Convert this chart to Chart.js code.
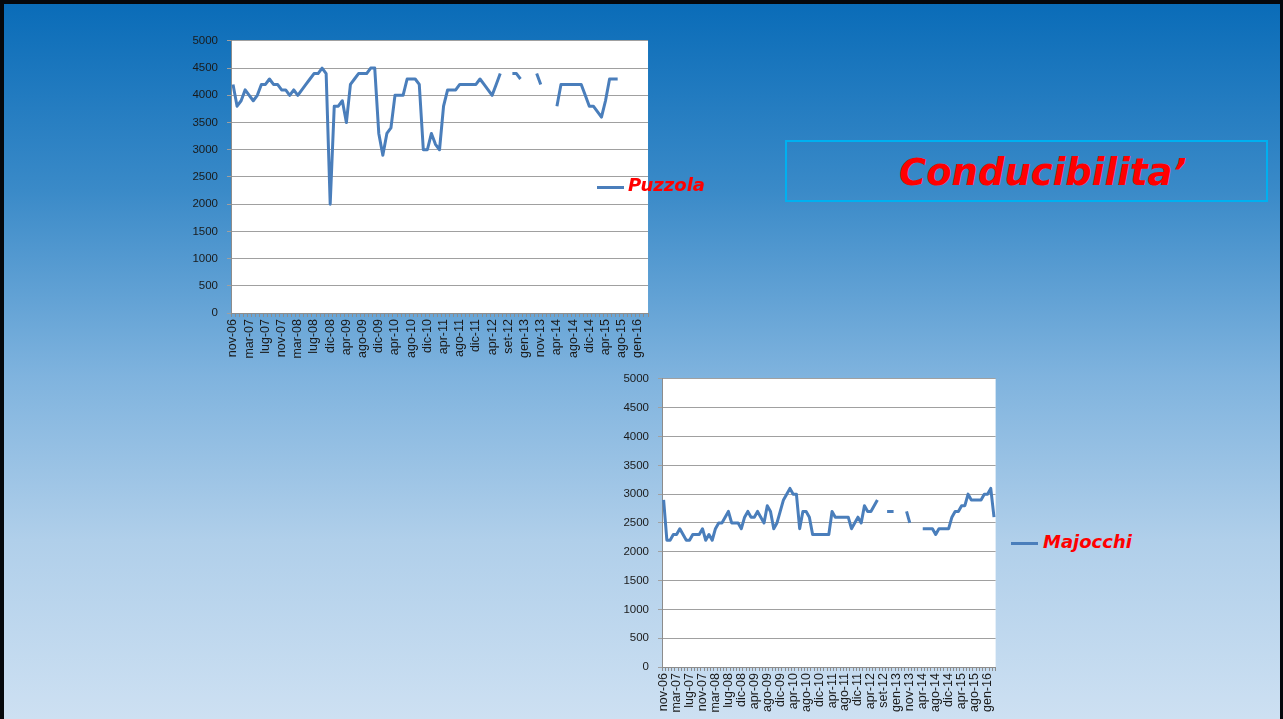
<!DOCTYPE html>
<html>
<head>
<meta charset="utf-8">
<script src="https://cdn.jsdelivr.net/npm/chart.js@4.4.1/dist/chart.umd.min.js"></script>
<style>
  html, body { margin:0; padding:0; width:1283px; height:719px; overflow:hidden; }
  #slide { position:absolute; left:0; top:0; width:1283px; height:719px; box-sizing:border-box;
    border-left:4px solid #05080c; border-top:4px solid #05080c; border-right:3px solid #05080c;
    background: linear-gradient(to bottom, #0a6cb8 0%, #3a8ac8 26%, #7fb3de 52%, #b0cfea 75%, #cde0f2 100%); }
  canvas { position:absolute; }
  .leg-line { position:absolute; height:3px; background:#4a7ebb; }
  .leg-text { position:absolute; font-family:"DejaVu Sans", sans-serif; font-weight:bold; font-style:italic;
    font-size:18px; line-height:1; color:#ff0000; white-space:nowrap; }
  #titlebox { position:absolute; left:785px; top:140px; width:483px; height:62px; box-sizing:border-box;
    border:2px solid #00b0f0; }
  #title { position:absolute; left:899px; top:154px; font-family:"DejaVu Sans", sans-serif; font-weight:bold;
    font-style:italic; font-size:37px; line-height:1; color:#ff0000; white-space:nowrap; }
</style>
</head>
<body>
<div id="slide"></div>
<canvas id="c1" width="493" height="345" style="left:170px; top:25px;"></canvas>
<canvas id="c2" width="411" height="356" style="left:600px; top:363px;"></canvas>
<div id="titlebox"></div>
<div id="title">Conducibilita’</div>
<div class="leg-line" style="left:597px; top:186px; width:27px;"></div>
<div class="leg-text" style="left:628px; top:176px;">Puzzola</div>
<div class="leg-line" style="left:1011px; top:542px; width:27px;"></div>
<div class="leg-text" style="left:1043px; top:533px;">Majocchi</div>
<script>
const categories = [
 'nov-06','dic-06','gen-07','feb-07','mar-07','apr-07','mag-07','giu-07','lug-07','ago-07','set-07','ott-07',
 'nov-07','dic-07','gen-08','feb-08','mar-08','apr-08','mag-08','giu-08','lug-08','set-08','ott-08','nov-08',
 'dic-08','gen-09','feb-09','mar-09','apr-09','mag-09','giu-09','lug-09','ago-09','set-09','ott-09','nov-09',
 'dic-09','gen-10','feb-10','mar-10','apr-10','mag-10','giu-10','lug-10','ago-10','set-10','ott-10','nov-10',
 'dic-10','gen-11','feb-11','mar-11','apr-11','mag-11','giu-11','lug-11','ago-11','set-11','ott-11','nov-11',
 'dic-11','gen-12','feb-12','mar-12','apr-12','mag-12','giu-12','lug-12','set-12','ott-12','nov-12','dic-12',
 'gen-13','mar-13','mag-13','lug-13','nov-13','gen-14','feb-14','mar-14','apr-14','mag-14','giu-14','lug-14',
 'ago-14','set-14','ott-14','nov-14','dic-14','gen-15','feb-15','mar-15','apr-15','mag-15','giu-15','lug-15',
 'ago-15','set-15','ott-15','nov-15','gen-16','feb-16','mar-16'
];

const puzzola = [
 4200,3800,3900,4100,4000,3900,4000,4200,4200,4300,4200,4200,
 4100,4100,4000,4100,4000,4100,4200,4300,4400,4400,4500,4400,
 2000,3800,3800,3900,3500,4200,4300,4400,4400,4400,4500,4500,
 3300,2900,3300,3400,4000,4000,4000,4300,4300,4300,4200,3000,
 3000,3300,3100,3000,3800,4100,4100,4100,4200,4200,4200,4200,
 4200,4300,4200,4100,4000,4200,4400,null,null,4400,4400,4300,
 null,null,null,4400,4200,null,null,null,3800,4200,4200,4200,
 4200,4200,4200,4000,3800,3800,3700,3600,3900,4300,4300,4300,
 null,null,null,null,null,null,null
];

const majocchi = [
 2900,2200,2200,2300,2300,2400,2300,2200,2200,2300,2300,2300,
 2400,2200,2300,2200,2400,2500,2500,2600,2700,2500,2500,2500,
 2400,2600,2700,2600,2600,2700,2600,2500,2800,2700,2400,2500,
 2700,2900,3000,3100,3000,3000,2400,2700,2700,2600,2300,2300,
 2300,2300,2300,2300,2700,2600,2600,2600,2600,2600,2400,2500,
 2600,2500,2800,2700,2700,2800,2900,null,null,2700,2700,2700,
 null,null,null,2700,2500,null,null,null,2400,2400,2400,2400,
 2300,2400,2400,2400,2400,2600,2700,2700,2800,2800,3000,2900,
 2900,2900,2900,3000,3000,3100,2600
];

const yTicks = [0,500,1000,1500,2000,2500,3000,3500,4000,4500,5000];
const labelEvery = 4;

const whiteArea = {
  id: 'whiteArea',
  beforeDraw(chart) {
    const {ctx, chartArea: {left, top, width, height}} = chart;
    ctx.save();
    ctx.fillStyle = '#ffffff';
    ctx.fillRect(left, top, width, height);
    ctx.restore();
  }
};

function makeChart(id, name, data, yWidth, xHeight) {
  return new Chart(document.getElementById(id), {
    type: 'line',
    data: {
      labels: categories,
      datasets: [{
        label: name,
        data: data,
        borderColor: '#4a7ebb',
        backgroundColor: '#4a7ebb',
        borderWidth: 3,
        pointRadius: 0,
        pointHoverRadius: 0,
        tension: 0,
        spanGaps: false,
        borderJoinStyle: 'round',
        borderCapStyle: 'butt'
      }]
    },
    options: {
      responsive: false,
      animation: false,
      devicePixelRatio: 1,
      layout: { padding: 0 },
      plugins: { legend: { display: false }, tooltip: { enabled: false } },
      scales: {
        x: {
          type: 'category',
          offset: true,
          grid: { drawOnChartArea: false, drawTicks: true, tickLength: 4, color: '#8c8c8c', offset: true },
          border: { color: '#8c8c8c', width: 1 },
          ticks: {
            autoSkip: false, maxRotation: 90, minRotation: 90, padding: 2,
            color: '#1a1a1a', font: { family: 'Liberation Sans', size: 12.5 },
            callback: function(v, i) { return i % labelEvery === 0 ? this.getLabelForValue(v) : ''; }
          },
          afterFit(scale) { scale.height = xHeight; }
        },
        y: {
          min: yTicks[0], max: yTicks[yTicks.length - 1],
          afterBuildTicks(scale) { scale.ticks = yTicks.map(v => ({ value: v })); },
          grid: { color: '#a0a0a0', tickLength: 4, drawTicks: true },
          border: { color: '#8c8c8c', width: 1 },
          ticks: { padding: 9, color: '#1a1a1a', font: { family: 'Liberation Sans', size: 11.5 },
            callback: v => String(v) },
          afterFit(scale) { scale.width = yWidth; }
        }
      }
    },
    plugins: [whiteArea]
  });
}

makeChart('c1', 'Puzzola', puzzola, 61, 57);
makeChart('c2', 'Majocchi', majocchi, 62, 52);
</script>
</body>
</html>
